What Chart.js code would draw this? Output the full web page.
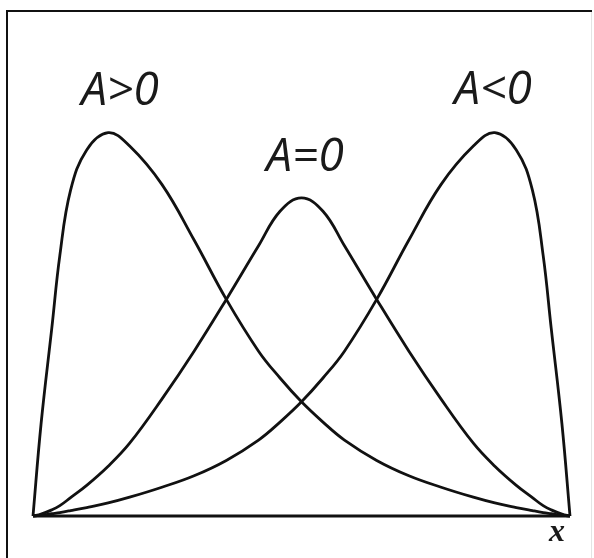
<!DOCTYPE html>
<html>
<head>
<meta charset="utf-8">
<script src="https://cdn.jsdelivr.net/npm/chart.js@4"></script>
<style>
  html, body { margin: 0; padding: 0; background: #fff; }
  canvas { display: block; }
</style>
</head>
<body>
<canvas id="skewChart" width="594" height="558"></canvas>
<script>
// x positions (fraction of the range) shared by the three curves
const xs = [0, 0.015, 0.035, 0.05, 0.07, 0.1, 0.14, 0.18, 0.24, 0.30, 0.36, 0.42, 0.46, 0.5,
  0.54, 0.58, 0.64, 0.70, 0.76, 0.82, 0.86, 0.9, 0.93, 0.95, 0.965, 0.985, 1];

// A>0 : peak on the left
const posSkew = [0, 0.24, 0.49, 0.68, 0.85, 0.955, 1.0, 0.965, 0.865, 0.72, 0.565, 0.43, 0.36, 0.298,
  0.245, 0.198, 0.145, 0.105, 0.075, 0.049, 0.034, 0.022, 0.014, 0.009, 0.006, 0.002, 0];

// A=0 : symmetric
const noSkew = [0, 0.005, 0.016, 0.027, 0.048, 0.08, 0.13, 0.19, 0.305, 0.43, 0.565, 0.705, 0.795, 0.83,
  0.795, 0.705, 0.565, 0.43, 0.305, 0.19, 0.13, 0.08, 0.048, 0.027, 0.016, 0.005, 0];

// A<0 : peak on the right
const negSkew = [0, 0.002, 0.006, 0.009, 0.014, 0.022, 0.034, 0.049, 0.075, 0.105, 0.145, 0.198, 0.245,
  0.298, 0.36, 0.43, 0.565, 0.72, 0.865, 0.965, 1.0, 0.955, 0.85, 0.68, 0.49, 0.24, 0];

const curveLabels = ["A>0", "A=0", "A<0"];
const axisLabel = "x";
const baseline = [0, 0];
const baselineX = [0, 1];

function toPoints(xv, yv) {
  return xv.map((x, i) => ({ x: x, y: yv[i] }));
}

// frame + text labels
const decorPlugin = {
  id: "decor",
  beforeDraw(chart) {
    const ctx = chart.ctx;
    ctx.save();
    ctx.fillStyle = "#fff";
    ctx.fillRect(0, 0, chart.width, chart.height);
    ctx.strokeStyle = "#111";
    ctx.lineWidth = 2;
    ctx.beginPath();
    ctx.moveTo(7, 558);
    ctx.lineTo(7, 11);
    ctx.lineTo(592, 11);
    ctx.stroke();
    ctx.strokeStyle = "#e4e4e4";
    ctx.lineWidth = 1;
    ctx.beginPath();
    ctx.moveTo(591.5, 12);
    ctx.lineTo(591.5, 558);
    ctx.stroke();
    ctx.restore();
  },
  afterDraw(chart) {
    const ctx = chart.ctx;
    ctx.save();
    ctx.fillStyle = "#1a1a1a";
    ctx.textAlign = "center";
    ctx.textBaseline = "alphabetic";
    ctx.font = "italic 46px 'Open Sans'";
    ctx.fillText(curveLabels[0], 120, 105);
    ctx.fillText(curveLabels[1], 305, 171);
    ctx.fillText(curveLabels[2], 493, 104);
    ctx.font = "italic bold 32px 'Liberation Serif'";
    ctx.fillText(axisLabel, 557, 541);
    ctx.restore();
  }
};

const ctx = document.getElementById("skewChart").getContext("2d");

const lineStyle = {
  borderColor: "#111",
  borderWidth: 2.8,
  pointRadius: 0,
  fill: false,
  tension: 0.4,
  clip: false
};

const myChart = new Chart(ctx, {
  type: "line",
  data: {
    datasets: [
      { label: curveLabels[0], data: toPoints(xs, posSkew), ...lineStyle },
      { label: curveLabels[1], data: toPoints(xs, noSkew), ...lineStyle },
      { label: curveLabels[2], data: toPoints(xs, negSkew), ...lineStyle },
      { label: "baseline", data: toPoints(baselineX, baseline), borderColor: "#111", borderWidth: 3,
        pointRadius: 0, fill: false, clip: false }
    ]
  },
  options: {
    responsive: false,
    animation: false,
    layout: { padding: { left: 33, right: 24, top: 56, bottom: 42 } },
    plugins: {
      legend: { display: false },
      tooltip: { enabled: false }
    },
    scales: {
      x: { type: "linear", min: 0, max: 1, display: false },
      y: { min: 0, max: 1.2, display: false }
    }
  },
  plugins: [decorPlugin]
});
</script>
</body>
</html>
